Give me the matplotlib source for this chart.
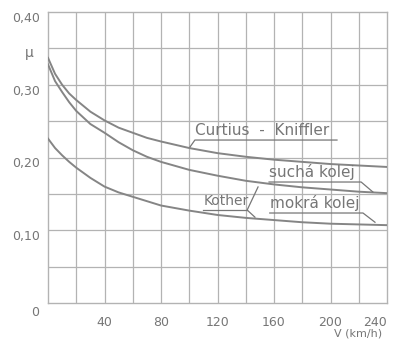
import matplotlib
matplotlib.use("Agg")
import matplotlib.pyplot as plt
import numpy as np

# speed V (km/h) and adhesion coefficient mu
v = [0, 5, 10, 15, 20, 30, 40, 50, 60, 70, 80, 100, 120, 140, 160, 180, 200, 220, 240]
mu_curtius = [0.337, 0.315, 0.300, 0.288, 0.279, 0.263, 0.251, 0.241, 0.234, 0.227, 0.222,
              0.213, 0.206, 0.201, 0.197, 0.194, 0.191, 0.189, 0.187]
mu_sucha = [0.328, 0.305, 0.290, 0.276, 0.264, 0.246, 0.234, 0.221, 0.210, 0.201, 0.194,
            0.183, 0.175, 0.168, 0.163, 0.159, 0.156, 0.153, 0.151]
mu_mokra = [0.226, 0.213, 0.203, 0.194, 0.186, 0.172, 0.160, 0.152, 0.146, 0.140, 0.134,
            0.127, 0.121, 0.117, 0.114, 0.111, 0.109, 0.108, 0.107]

x_labels = ["40", "80", "120", "160", "200", "240"]
y_labels = ["0,10", "0,20", "0,30", "0,40"]

ink = "#767676"
grid_c = "#b3b3b3"

fig = plt.figure(figsize=(3.95, 3.45), dpi=100)
ax = fig.add_axes([48 / 395, 1 - 303 / 345, (387 - 48) / 395, (303 - 12) / 345])
ax.set_xlim(0, 240)
ax.set_ylim(0, 0.40)

# grid every 20 km/h and every 0.05
for gx in np.arange(20, 240, 20):
    ax.axvline(gx, color=grid_c, lw=0.9, zorder=1)
for gy in np.arange(0.05, 0.40, 0.05):
    ax.axhline(gy, color=grid_c, lw=0.9, zorder=1)
for s in ax.spines.values():
    s.set_color(grid_c)
    s.set_linewidth(1.0)

for series in (mu_curtius, mu_sucha, mu_mokra):
    ax.plot(v, series, color="#858585", lw=1.4, zorder=3)

ax.set_xticks([40, 80, 120, 160, 200, 240])
ax.set_xticklabels(x_labels)
ax.set_yticks([0.10, 0.20, 0.30, 0.40])
ax.set_yticklabels(y_labels)
ax.tick_params(length=0, colors=ink, labelsize=9)
ax.tick_params(axis="x", pad=9)
ax.tick_params(axis="y", pad=6)
for lab in ax.get_yticklabels():
    lab.set_verticalalignment("top")
# last label is cut by the page edge in the scan, keep it just inside
ax.get_xticklabels()[-1].set_horizontalalignment("right")
ax.get_xticklabels()[-1].set_x(240)

fig.text(35 / 395, 1 - 313 / 345, "0", color=ink, fontsize=9, ha="center", va="center")
fig.text(29 / 395, 1 - 53 / 345, "μ", color=ink, fontsize=10, ha="center", va="center")
fig.text(358 / 395, 1 - 334 / 345, "V (km/h)", color=ink, fontsize=8, ha="center", va="center")

# curve labels with underline and leader lines
lk = dict(color=ink, lw=0.9, zorder=4)
ax.text(104, 0.227, "Curtius  -  Kniffler", color=ink, fontsize=11, ha="left", va="bottom")
ax.plot([100.5, 104, 204.6], [0.2144, 0.224, 0.224], **lk)

ax.text(156.5, 0.169, "suchá kolej", color=ink, fontsize=11, ha="left", va="bottom")
ax.plot([156.5, 221.7, 230], [0.1663, 0.1663, 0.1526], **lk)

ax.text(110, 0.131, "Kother", color=ink, fontsize=10, ha="left", va="bottom")
ax.plot([110, 141], [0.1278, 0.1278], **lk)
ax.plot([148.7, 141, 146.5], [0.1595, 0.1278, 0.118], **lk)

ax.text(157, 0.1265, "mokrá kolej", color=ink, fontsize=11, ha="left", va="bottom")
ax.plot([157, 223, 231.5], [0.1237, 0.1237, 0.111], **lk)

fig.savefig("out.png", dpi=100)
